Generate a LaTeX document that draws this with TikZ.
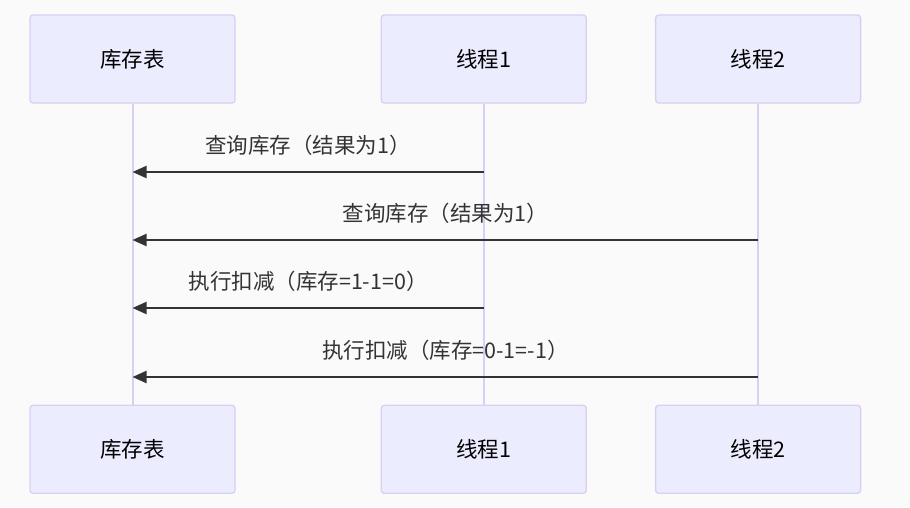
\documentclass[tikz,border=0pt]{standalone}
\usepackage{fontspec}
\newfontfamily\cjk{Noto Sans CJK SC}
\usetikzlibrary{positioning, arrows.meta}
\definecolor{actorfill}{HTML}{ECECFF}
\definecolor{actorline}{HTML}{DACEF2}
\definecolor{signalgray}{HTML}{333333}
\definecolor{canvas}{HTML}{FAFAFA}

\begin{document}
\begin{tikzpicture}[
        x=1pt, y=-1pt,
        actor/.style={rectangle, rounded corners=3pt, draw=actorline, line width=1.3pt, fill=actorfill, minimum width=205pt, minimum height=88pt, font=\cjk\fontsize{21.5}{26}\selectfont, text=black},
        lifeline/.style={draw=actorline, line width=2pt},
        msgarrow/.style={-{Triangle[length=14pt, width=12pt]}, line width=2pt, draw=signalgray},
        msgtext/.style={font=\cjk\fontsize{21.5}{26}\selectfont, text=signalgray, inner sep=0pt, yshift=27pt}
    ]
    \fill[canvas] (0,0) rectangle (910,507);
    \useasboundingbox (0,0) rectangle (910,507);
    \node[actor] (kctop) at (132.5,59) {库存表};
    \node[actor, right=145pt of kctop] (t1top) {线程1};
    \node[actor, right=68pt of t1top] (t2top) {线程2};
    \node[actor, below=301pt of kctop] (kcbot) {库存表};
    \node[actor, below=301pt of t1top] (t1bot) {线程1};
    \node[actor, below=301pt of t2top] (t2bot) {线程2};
    \draw[lifeline] (kctop) -- (kcbot);
    \draw[lifeline] (t1top) -- (t1bot);
    \draw[lifeline] (t2top) -- (t2bot);
    % messages
    \coordinate (q1from) at (t1top.south |- 0,172);
    \coordinate (q1to) at (kctop.south |- 0,172);
    \coordinate (q2from) at (t2top.south |- 0,240);
    \coordinate (q2to) at (kctop.south |- 0,240);
    \coordinate (d1from) at (t1top.south |- 0,308);
    \coordinate (d1to) at (kctop.south |- 0,308);
    \coordinate (d2from) at (t2top.south |- 0,377);
    \coordinate (d2to) at (kctop.south |- 0,377);
    \draw[msgarrow] (q1from) -- node[msgtext] {查询库存（结果为1）} (q1to);
    \draw[msgarrow] (q2from) -- node[msgtext] {查询库存（结果为1）} (q2to);
    \draw[msgarrow] (d1from) -- node[msgtext] {执行扣减（库存=1-1=0）} (d1to);
    \draw[msgarrow] (d2from) -- node[msgtext] {执行扣减（库存=0-1=-1）} (d2to);
\end{tikzpicture}
\end{document}
